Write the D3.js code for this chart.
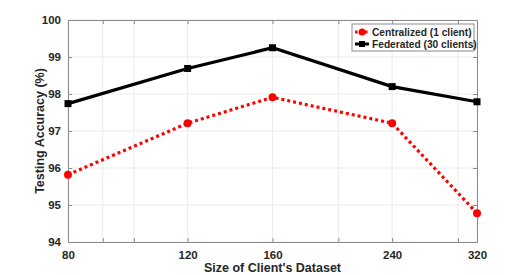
<!DOCTYPE html>
<html>
<head>
<meta charset="utf-8">
<script src="https://cdn.jsdelivr.net/npm/d3@7"></script>
<style>
  body { margin: 0; background: #fff; }
  text { font-family: "Liberation Sans", Arial, sans-serif; font-weight: bold; fill: #262626; }
</style>
</head>
<body>
<div id="chart"></div>
<script>
// data
var sizes = [80, 120, 160, 240, 320];
var minorTicks = [90, 100, 200, 300];
var yTicks = [94, 95, 96, 97, 98, 99, 100];
var centralized = [95.82, 97.21, 97.91, 97.21, 94.78];
var federated = [97.74, 98.69, 99.25, 98.2, 97.79];
var seriesNames = ["Centralized (1 client)", "Federated (30 clients)"];

var W = 528, H = 275;
var pLeft = 68, pRight = 477, pTop = 20, pBottom = 242;

var svg = d3.select("#chart").append("svg")
    .attr("width", W).attr("height", H);

var x = d3.scaleLog().domain([80, 320]).range([pLeft, pRight]);
var y = d3.scaleLinear().domain([94, 100]).range([pBottom, pTop]);

// grid
var grid = svg.append("g");
grid.selectAll(".gx").data(sizes.concat(minorTicks)).enter().append("line")
    .attr("x1", function(d){return x(d);}).attr("x2", function(d){return x(d);})
    .attr("y1", pTop).attr("y2", pBottom)
    .style("stroke", "#ebebeb").style("stroke-width", 1);
grid.selectAll(".gy").data(yTicks).enter().append("line")
    .attr("x1", pLeft).attr("x2", pRight)
    .attr("y1", function(d){return y(d);}).attr("y2", function(d){return y(d);})
    .style("stroke", "#ebebeb").style("stroke-width", 1);

// axes (box with inward ticks)
var axisColor = "#8c8c8c";
function styleAxis(g) {
    g.select(".domain").style("stroke", axisColor);
    g.selectAll(".tick line").style("stroke", axisColor);
    g.selectAll("text").style("font-size", "11.5px").style("font-family", "Liberation Sans, Arial, sans-serif")
        .style("font-weight", "bold").attr("fill", "#262626");
}
var allX = sizes.concat(minorTicks);
svg.append("g").attr("transform", "translate(0," + pBottom + ")")
    .call(d3.axisBottom(x).tickValues(allX).tickSizeInner(-4).tickSizeOuter(0)
        .tickFormat(function(d){return sizes.indexOf(d) >= 0 ? d : "";}).tickPadding(9))
    .call(styleAxis);
svg.append("g").attr("transform", "translate(0," + pTop + ")")
    .call(d3.axisTop(x).tickValues(allX).tickSizeInner(-4).tickSizeOuter(0).tickFormat(""))
    .call(styleAxis);
svg.append("g").attr("transform", "translate(" + pLeft + ",0)")
    .call(d3.axisLeft(y).tickValues(yTicks).tickSizeInner(-4).tickSizeOuter(0)
        .tickFormat(d3.format("d")).tickPadding(7))
    .call(styleAxis);
svg.append("g").attr("transform", "translate(" + pRight + ",0)")
    .call(d3.axisRight(y).tickValues(yTicks).tickSizeInner(-4).tickSizeOuter(0).tickFormat(""))
    .call(styleAxis);

// axis titles
svg.append("text").attr("x", (pLeft + pRight) / 2).attr("y", 272)
    .attr("text-anchor", "middle").style("font-size", "12.5px")
    .text("Size of Client's Dataset");
svg.append("text").attr("transform", "translate(44," + ((pTop + pBottom) / 2) + ")rotate(-90)")
    .attr("text-anchor", "middle").style("font-size", "12.5px")
    .text("Testing Accuracy (%)");

// lines
var line = d3.line().x(function(d){return x(d[0]);}).y(function(d){return y(d[1]);});
var fedPts = sizes.map(function(s, i){return [s, federated[i]];});
var cenPts = sizes.map(function(s, i){return [s, centralized[i]];});

svg.append("path").datum(fedPts).attr("d", line)
    .style("fill", "none").style("stroke", "#000").style("stroke-width", 3.2);
svg.selectAll(".fm").data(fedPts).enter().append("rect")
    .attr("x", function(d){return x(d[0]) - 3.5;}).attr("y", function(d){return y(d[1]) - 3.5;})
    .attr("width", 7).attr("height", 7).style("fill", "#000");

svg.append("path").datum(cenPts).attr("d", line)
    .style("fill", "none").style("stroke", "#ff0000").style("stroke-width", 3.2)
    .style("stroke-dasharray", "3,3");
svg.selectAll(".cm").data(cenPts).enter().append("circle")
    .attr("cx", function(d){return x(d[0]);}).attr("cy", function(d){return y(d[1]);})
    .attr("r", 4).style("fill", "#ff0000");

// legend
var lg = svg.append("g").attr("transform", "translate(352,24)");
lg.append("rect").attr("width", 122).attr("height", 27)
    .style("fill", "#fff").style("stroke", "#8c8c8c").style("stroke-width", 1);
var rows = lg.selectAll(".row").data(seriesNames).enter().append("g")
    .attr("transform", function(d, i){return "translate(0," + (8 + i * 12) + ")";});
rows.append("line").attr("x1", 3).attr("x2", 17).attr("y1", 0).attr("y2", 0)
    .style("stroke", function(d, i){return i == 0 ? "#ff0000" : "#000";})
    .style("stroke-width", 3)
    .style("stroke-dasharray", function(d, i){return i == 0 ? "2.5,2.5" : null;});
rows.each(function(d, i) {
    var g = d3.select(this);
    if (i == 0) g.append("circle").attr("cx", 10).attr("cy", 0).attr("r", 3.5).style("fill", "#ff0000");
    else g.append("rect").attr("x", 7).attr("y", -3).attr("width", 6).attr("height", 6).style("fill", "#000");
});
rows.append("text").attr("x", 20).attr("y", 3.6).style("font-size", "10.2px")
    .text(function(d){return d;});
</script>
</body>
</html>
